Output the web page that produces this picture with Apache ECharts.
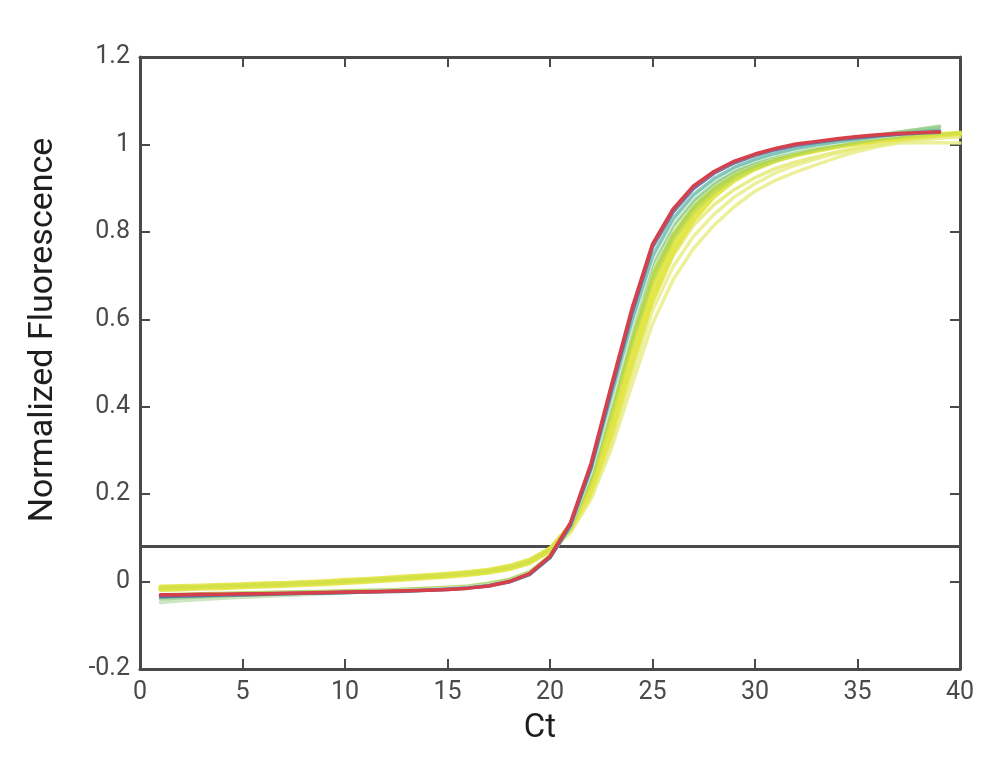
<!DOCTYPE html>
<html><head><meta charset="utf-8">
<script src="https://cdn.jsdelivr.net/npm/echarts@6/dist/echarts.min.js"></script>
<style>html,body{margin:0;padding:0;background:#fff}#c{width:983px;height:782px}</style>
</head><body><div id="c"></div>
<script>
// Cycle numbers (x)
const cycles = [1,2,3,4,5,6,7,8,9,10,11,12,13,14,15,16,17,18,19,20,21,22,23,24,25,26,27,28,29,30,31,32,33,34,35,36,37,38,39,40];
const threshold = 0.08;
const xTicks = [0,5,10,15,20,25,30,35,40];
const yTicks = [-0.2,0,0.2,0.4,0.6,0.8,1,1.2];

// Normalized fluorescence curves
const red = [-0.030,-0.030,-0.029,-0.029,-0.028,-0.028,-0.027,-0.026,-0.025,-0.024,-0.023,-0.022,-0.021,-0.020,-0.018,-0.015,-0.010,0.000,0.018,0.058,0.135,0.270,0.450,0.625,0.772,0.852,0.905,0.938,0.962,0.978,0.991,1.001,1.007,1.013,1.018,1.022,1.025,1.027,1.029];
const slate = [-0.034,-0.033,-0.032,-0.031,-0.030,-0.029,-0.028,-0.027,-0.026,-0.025,-0.024,-0.023,-0.022,-0.020,-0.018,-0.015,-0.010,-0.001,0.016,0.055,0.130,0.262,0.440,0.615,0.765,0.845,0.899,0.934,0.958,0.975,0.988,0.998,1.005,1.011,1.016,1.020,1.023,1.026,1.028];
const teal = [-0.036,-0.034,-0.033,-0.031,-0.030,-0.029,-0.028,-0.027,-0.026,-0.025,-0.024,-0.022,-0.021,-0.019,-0.017,-0.014,-0.009,0.000,0.017,0.055,0.128,0.258,0.428,0.598,0.745,0.830,0.885,0.922,0.948,0.966,0.980,0.991,0.999,1.006,1.012,1.018,1.024,1.029,1.033];
const lightCyan = [-0.033,-0.032,-0.031,-0.030,-0.029,-0.028,-0.027,-0.026,-0.025,-0.024,-0.023,-0.021,-0.020,-0.018,-0.016,-0.013,-0.008,0.001,0.018,0.056,0.127,0.250,0.415,0.585,0.735,0.822,0.880,0.918,0.945,0.963,0.977,0.988,0.997,1.004,1.011,1.017,1.022,1.027,1.031];
const green = [-0.040,-0.037,-0.035,-0.033,-0.031,-0.030,-0.028,-0.027,-0.026,-0.025,-0.023,-0.022,-0.020,-0.019,-0.017,-0.013,-0.008,0.001,0.018,0.056,0.126,0.252,0.418,0.585,0.728,0.815,0.872,0.912,0.940,0.960,0.975,0.987,0.997,1.006,1.014,1.021,1.028,1.034,1.040];
const paleGreen = [-0.048,-0.044,-0.041,-0.038,-0.036,-0.034,-0.032,-0.030,-0.028,-0.026,-0.024,-0.022,-0.020,-0.018,-0.016,-0.012,-0.007,0.002,0.019,0.057,0.126,0.250,0.415,0.580,0.722,0.810,0.868,0.908,0.937,0.958,0.973,0.985,0.996,1.005,1.013,1.021,1.028,1.035,1.042];
const lime1 = [-0.032,-0.031,-0.030,-0.029,-0.028,-0.027,-0.026,-0.025,-0.024,-0.023,-0.022,-0.021,-0.019,-0.017,-0.015,-0.012,-0.006,0.003,0.020,0.058,0.125,0.245,0.405,0.565,0.705,0.795,0.857,0.900,0.930,0.952,0.968,0.981,0.991,1.000,1.008,1.015,1.021,1.027,1.032];
const lime2 = [-0.031,-0.030,-0.029,-0.028,-0.027,-0.026,-0.025,-0.024,-0.023,-0.022,-0.021,-0.020,-0.018,-0.016,-0.014,-0.011,-0.005,0.004,0.021,0.058,0.122,0.235,0.390,0.548,0.688,0.782,0.846,0.890,0.922,0.945,0.962,0.976,0.987,0.996,1.004,1.011,1.017,1.023,1.028];
const lime3 = [-0.030,-0.029,-0.028,-0.027,-0.026,-0.025,-0.024,-0.023,-0.022,-0.021,-0.020,-0.019,-0.017,-0.015,-0.013,-0.010,-0.004,0.005,0.022,0.059,0.124,0.240,0.398,0.558,0.700,0.792,0.855,0.898,0.929,0.951,0.967,0.980,0.990,0.999,1.007,1.014,1.020,1.026,1.031];
const yellowGreen = [-0.014,-0.013,-0.012,-0.010,-0.009,-0.007,-0.006,-0.004,-0.002,0.001,0.003,0.006,0.009,0.012,0.015,0.019,0.024,0.032,0.046,0.073,0.128,0.225,0.375,0.545,0.690,0.790,0.857,0.903,0.935,0.957,0.973,0.985,0.994,1.001,1.007,1.012,1.016,1.020,1.023,1.026];
const yellow1 = [-0.016,-0.015,-0.013,-0.012,-0.010,-0.009,-0.007,-0.005,-0.003,0.000,0.002,0.005,0.008,0.011,0.014,0.018,0.023,0.031,0.045,0.072,0.125,0.215,0.355,0.520,0.665,0.770,0.842,0.893,0.928,0.952,0.969,0.981,0.990,0.998,1.004,1.010,1.015,1.019,1.022,1.025];
const yellow2 = [-0.013,-0.012,-0.011,-0.009,-0.008,-0.006,-0.004,-0.002,0.000,0.002,0.005,0.007,0.010,0.013,0.017,0.021,0.026,0.034,0.048,0.075,0.122,0.208,0.343,0.505,0.650,0.757,0.832,0.885,0.921,0.946,0.964,0.977,0.987,0.995,1.002,1.008,1.013,1.018,1.022,1.026];
const yellow3 = [-0.019,-0.018,-0.016,-0.015,-0.013,-0.011,-0.010,-0.008,-0.006,-0.003,-0.001,0.002,0.005,0.008,0.011,0.015,0.020,0.028,0.042,0.070,0.120,0.205,0.338,0.498,0.642,0.750,0.826,0.880,0.917,0.943,0.962,0.975,0.985,0.994,1.001,1.007,1.012,1.017,1.021,1.024];
const yellow4 = [-0.011,-0.010,-0.009,-0.007,-0.006,-0.004,-0.003,-0.001,0.001,0.004,0.006,0.009,0.012,0.015,0.018,0.022,0.027,0.036,0.050,0.076,0.130,0.222,0.365,0.532,0.678,0.782,0.851,0.899,0.932,0.955,0.971,0.983,0.992,0.999,1.005,1.011,1.016,1.020,1.024,1.027];
const paleYellow1 = [-0.015,-0.014,-0.012,-0.011,-0.009,-0.008,-0.006,-0.004,-0.002,0.000,0.003,0.005,0.008,0.011,0.015,0.019,0.024,0.032,0.045,0.071,0.118,0.198,0.325,0.485,0.640,0.745,0.815,0.862,0.897,0.924,0.945,0.960,0.972,0.983,0.992,1.000,1.007,1.013,1.018,1.022];
const paleYellow2 = [-0.017,-0.016,-0.014,-0.013,-0.011,-0.010,-0.008,-0.006,-0.004,-0.002,0.001,0.004,0.007,0.010,0.013,0.017,0.022,0.030,0.044,0.070,0.115,0.192,0.315,0.470,0.620,0.720,0.790,0.840,0.880,0.910,0.935,0.953,0.967,0.980,0.990,0.998,1.005,1.010,1.014,1.017];
const paleYellow3 = [-0.018,-0.017,-0.015,-0.014,-0.012,-0.011,-0.009,-0.007,-0.005,-0.003,0.000,0.003,0.006,0.009,0.012,0.016,0.021,0.029,0.043,0.068,0.112,0.188,0.305,0.450,0.590,0.690,0.762,0.815,0.858,0.893,0.918,0.937,0.954,0.970,0.984,0.995,1.003,1.004,1.004,1.003];

function pts(vals){ return vals.map((v,i)=>[cycles[i], v]); }
function line(name, vals, color, width, opacity){
  return { name, type:'line', data: pts(vals), showSymbol:false, symbol:'none', silent:true,
    lineStyle:{ color, width, opacity, join:'round', cap:'round' }, z: 3 };
}
const fontFam = 'Roboto, "Open Sans", sans-serif';
const axisColor = '#4a4a4a';

const series = [
  { name:'threshold', type:'line', data:[[xTicks[0], threshold],[xTicks[xTicks.length-1], threshold]],
    showSymbol:false, symbol:'none', silent:true, lineStyle:{color:axisColor, width:3}, z:2 },
  line('py3', paleYellow3, '#e9ed8a', 3.5, 0.85),
  line('py2', paleYellow2, '#e9ed8a', 3.5, 0.85),
  line('py1', paleYellow1, '#e6ea78', 3.5, 0.85),
  line('y3', yellow3, '#e2e547', 4, 0.9),
  line('y2', yellow2, '#e2e547', 4, 0.9),
  line('y4', yellow4, '#e3e64a', 4, 0.9),
  line('y1', yellow1, '#e1e546', 4, 0.9),
  line('yg', yellowGreen, '#d0e046', 3.5, 0.8),
  line('lime2', lime2, '#c0db4e', 3.5, 0.75),
  line('lime3', lime3, '#a9d45a', 3.5, 0.7),
  line('lime1', lime1, '#b2d650', 3.5, 0.75),
  line('paleGreen', paleGreen, '#bfe1b2', 3.5, 0.8),
  line('green', green, '#86c777', 3.5, 0.7),
  line('lightCyan', lightCyan, '#d6eee9', 3.5, 0.85),
  line('teal', teal, '#63b6a6', 3.5, 0.75),
  line('slate', slate, '#5e5f98', 3.5, 0.85),
  line('red', red, '#d6404b', 3.5, 1)
];

const chart = echarts.init(document.getElementById('c'), null, {renderer:'canvas'});
chart.setOption({
  animation:false,
  backgroundColor:'#fff',
  grid:{ left:140, right:23, top:57, bottom:113, containLabel:false },
  xAxis:[
    { type:'value', min:xTicks[0], max:xTicks[xTicks.length-1], interval:5, position:'bottom',
      axisLine:{show:true, onZero:false, lineStyle:{color:axisColor, width:3}},
      axisTick:{show:true, inside:true, length:10, lineStyle:{color:axisColor, width:2}},
      axisLabel:{ color:'#4a4a4a', fontSize:25, fontFamily:fontFam, margin:11 },
      splitLine:{show:false},
      name:'Ct', nameLocation:'middle', nameGap:43,
      nameTextStyle:{ color:'#1e1e1e', fontSize:33, fontFamily:fontFam, padding:[0,20,0,0] } },
    { type:'value', min:xTicks[0], max:xTicks[xTicks.length-1], interval:5, position:'top',
      axisLine:{show:true, onZero:false, lineStyle:{color:axisColor, width:3}},
      axisTick:{show:true, inside:true, length:10, lineStyle:{color:axisColor, width:2}},
      axisLabel:{show:false}, splitLine:{show:false} }
  ],
  yAxis:[
    { type:'value', min:yTicks[0], max:yTicks[yTicks.length-1], interval:0.2, position:'left',
      axisLine:{show:true, onZero:false, lineStyle:{color:axisColor, width:3}},
      axisTick:{show:true, inside:true, length:10, lineStyle:{color:axisColor, width:2}},
      axisLabel:{ color:'#4a4a4a', fontSize:25, fontFamily:fontFam, margin:10,
        formatter: v => String(parseFloat(v.toFixed(1))) },
      splitLine:{show:false},
      name:'Normalized Fluorescence', nameLocation:'middle', nameGap:80,
      nameTextStyle:{ color:'#1e1e1e', fontSize:34, fontFamily:fontFam, padding:[0,0,0,66] } },
    { type:'value', min:yTicks[0], max:yTicks[yTicks.length-1], interval:0.2, position:'right',
      axisLine:{show:true, onZero:false, lineStyle:{color:axisColor, width:3}},
      axisTick:{show:true, inside:true, length:10, lineStyle:{color:axisColor, width:2}},
      axisLabel:{show:false}, splitLine:{show:false} }
  ],
  series
});
</script></body></html>
